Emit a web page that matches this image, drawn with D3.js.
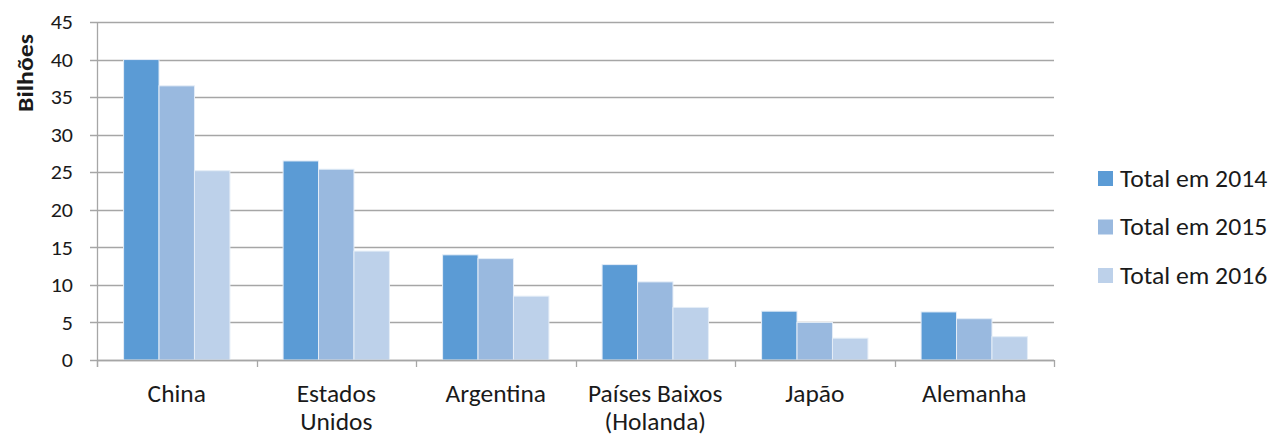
<!DOCTYPE html>
<html>
<head>
<meta charset="utf-8">
<script src="https://cdn.jsdelivr.net/npm/d3@7"></script>
<style>
  body { margin: 0; background: #fff; }
  text { font-family: Carlito, Lato, "Open Sans", sans-serif; fill: #1a1a1a; }
</style>
</head>
<body>
<div id="chart"></div>
<script>
var width = 1276,
    height = 438;

// data
var countries = ["China", "Estados Unidos", "Argentina", "Países Baixos (Holanda)", "Japão", "Alemanha"];
var countryLines = [["China"], ["Estados", "Unidos"], ["Argentina"], ["Países Baixos", "(Holanda)"], ["Japão"], ["Alemanha"]];
var seriesNames = ["Total em 2014", "Total em 2015", "Total em 2016"];
var total2014 = [40.0, 26.5, 14.0, 12.7, 6.5, 6.4];
var total2015 = [36.5, 25.4, 13.5, 10.4, 5.0, 5.5];
var total2016 = [25.2, 14.5, 8.5, 7.0, 2.9, 3.1];
var yTicks = [0, 5, 10, 15, 20, 25, 30, 35, 40, 45];
var colors = ["#5B9BD5", "#99B9DF", "#BDD1EA"];

var series = [total2014, total2015, total2016];

var margin = {top: 22, left: 97, right: 222, bottom: 78};

var svg = d3.select("#chart").append("svg")
    .attr("width", width)
    .attr("height", height);

var x = d3.scaleBand()
    .domain(countries)
    .range([margin.left, width - margin.right])
    .paddingInner(0)
    .paddingOuter(0);

// gap width 150% -> group takes 3 of 4.5 bar widths
var inner = d3.scaleBand()
    .domain(d3.range(series.length))
    .range([0, x.bandwidth()])
    .paddingOuter(0.75)
    .paddingInner(0);

var y = d3.scaleLinear()
    .domain([0, 45])
    .range([height - margin.bottom, margin.top]);

//gridlines
svg.selectAll(".grid")
    .data(yTicks)
  .enter().append("line")
  .attr("class", "grid")
  .attr("x1", margin.left - 7)
  .attr("x2", width - margin.right)
  .attr("y1", function(d) { return Math.round(y(d)) + 0.5; })
  .attr("y2", function(d) { return Math.round(y(d)) + 0.5; })
  .style("stroke", "#A6A6A6")
  .style("stroke-width", 1.3);

// y labels (text a bit wider than the font, like the original)
svg.selectAll(".ylab")
    .data(yTicks)
  .enter().append("text")
  .attr("class", "ylab")
  .attr("transform", function(d) { return "translate(73," + y(d) + ") scale(1.1,1)"; })
  .attr("dy", "0.36em")
  .attr("text-anchor", "end")
  .style("font-size", "20px")
  .text(function(d) { return d; });

// bars
series.forEach(function(vals, s) {
  svg.selectAll(".bar" + s)
      .data(vals)
    .enter().append("rect")
    .attr("class", "bar" + s)
    .attr("x", function(d, i) { return x(countries[i]) + inner(s); })
    .attr("y", function(d) { return y(d); })
    .attr("width", inner.bandwidth())
    .attr("height", function(d) { return y(0) - y(d); })
    .attr("fill", colors[s])
    .style("stroke", "#E4EDF7")
    .style("stroke-width", 1);
});

// axis lines
svg.append("line")
  .attr("x1", margin.left + 0.5).attr("x2", margin.left + 0.5)
  .attr("y1", margin.top).attr("y2", y(0) + 7)
  .style("stroke", "#A6A6A6").style("stroke-width", 1.3);
svg.append("line")
  .attr("x1", margin.left).attr("x2", width - margin.right)
  .attr("y1", Math.round(y(0)) + 0.5).attr("y2", Math.round(y(0)) + 0.5)
  .style("stroke", "#A6A6A6").style("stroke-width", 1.3);

// x tick marks
var bounds = countries.map(function(c) { return x(c); }).concat([width - margin.right]);
svg.selectAll(".xtick")
    .data(bounds)
  .enter().append("line")
  .attr("x1", function(d) { return Math.round(d) + 0.5; })
  .attr("x2", function(d) { return Math.round(d) + 0.5; })
  .attr("y1", y(0))
  .attr("y2", y(0) + 7)
  .style("stroke", "#A6A6A6").style("stroke-width", 1.3);

// x labels
svg.selectAll(".xlab")
    .data(countries)
  .enter().append("g")
  .attr("class", "xlab")
  .each(function(d, i) {
    var g = d3.select(this);
    countryLines[i].forEach(function(line, k) {
      g.append("text")
        .attr("transform", "translate(" + (x(d) + x.bandwidth() / 2) + "," + (402 + k * 28) + ") scale(1.06,1)")
        .attr("text-anchor", "middle")
        .style("font-size", "24px")
        .text(line);
    });
  });

// axis title
svg.append("text")
  .attr("transform", "translate(33,73) rotate(-90) scale(1.12,1)")
  .attr("text-anchor", "middle")
  .style("font-size", "23px")
  .style("font-weight", "bold")
  .text("Bilhões");

// legend
var legend = svg.selectAll(".legend")
    .data(seriesNames)
  .enter().append("g")
  .attr("class", "legend")
  .attr("transform", function(d, i) { return "translate(1098," + (178 + i * 48.5) + ")"; });
legend.append("rect")
  .attr("x", 0).attr("y", -7)
  .attr("width", 15).attr("height", 15)
  .attr("fill", function(d, i) { return colors[i]; });
legend.append("text")
  .attr("transform", "translate(22,0) scale(1.07,1)")
  .attr("dy", "0.36em")
  .style("font-size", "24px")
  .text(function(d) { return d; });
</script>
</body>
</html>
